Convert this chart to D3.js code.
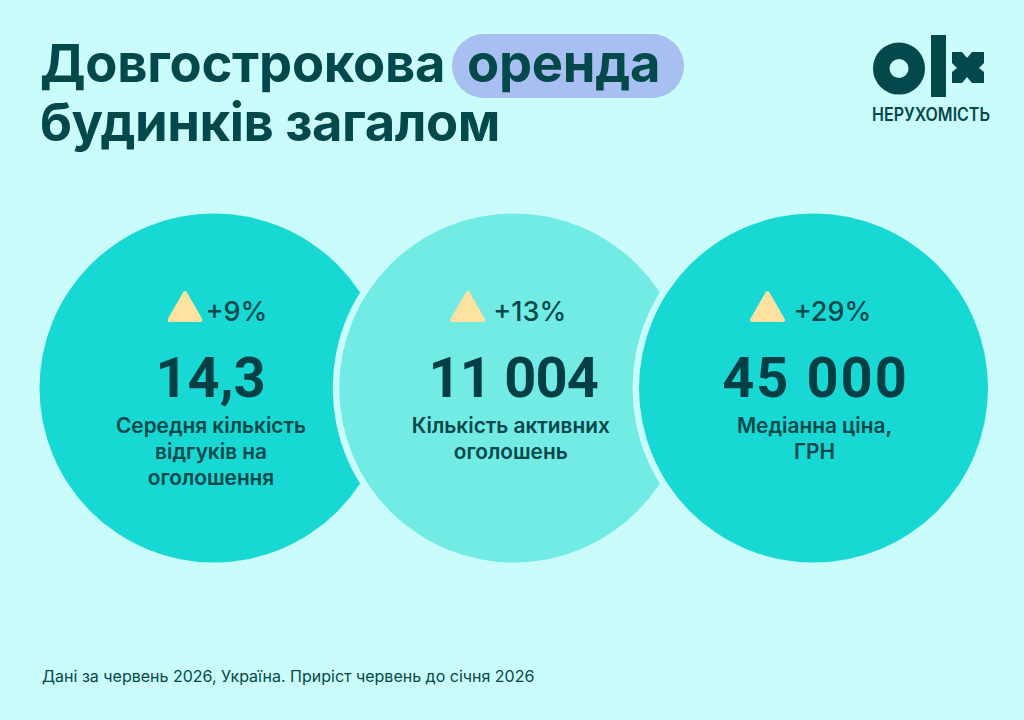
<!DOCTYPE html>
<html>
<head>
<meta charset="UTF-8"/>
<title>Довгострокова оренда будинків загалом</title>
<script src="https://d3js.org/d3.v7.min.js"></script>
<style>
html, body { margin: 0; padding: 0; background: #c9fcfa; }
svg { display: block; }
text { font-family: Inter, "Noto Sans", sans-serif; fill: #03484b; }
text.value { font-family: Roboto, sans-serif; fill: #033f44; }
</style>
</head>
<body>
<div id="chart"></div>
<script>
// data
var changes = ["+9%", "+13%", "+29%"];
var values = ["14,3", "11 004", "45 000"];
var labels = [
	["Середня кількість", "відгуків на", "оголошення"],
	["Кількість активних", "оголошень"],
	["Медіанна ціна,", "ГРН"]
];
var fills = ["#18d8d3", "#72ebe5", "#18d8d3"];
var bg = "#c9fcfa";

var svg = d3.select("#chart").append("svg")
	.attr("width", 1024)
	.attr("height", 720);

svg.append("rect").attr("width", 1024).attr("height", 720).attr("fill", bg);

// title
svg.append("rect")
	.attr("x", 452).attr("y", 34)
	.attr("width", 232).attr("height", 64)
	.attr("rx", 32)
	.attr("fill", "#a8bff2");

var title = [
	{t: "Довгострокова", x: 40, y: 82, s: -0.25},
	{t: "оренда", x: 467, y: 82, s: -0.25},
	{t: "будинків загалом", x: 40, y: 141, s: -0.45}
];
svg.selectAll(".title").data(title).enter().append("text")
	.attr("class", "title")
	.attr("x", d => d.x)
	.attr("y", d => d.y)
	.attr("font-size", 52.5)
	.attr("font-weight", 650)
	.attr("letter-spacing", d => d.s)
	.text(d => d.t);

// logo
var logo = svg.append("g").attr("fill", "#03484b");
logo.append("circle").attr("cx", 899).attr("cy", 68.5).attr("r", 17.75)
	.attr("fill", "none").attr("stroke", "#03484b").attr("stroke-width", 16.5);
logo.append("rect").attr("x", 931).attr("y", 35).attr("width", 15).attr("height", 62);
logo.append("path")
	.attr("d", "M952 52h10l5 6 5-6h12v11l-5 5 5 4v11h-12l-5-6-5 6h-10v-11l5-4-5-5z");
svg.append("text")
	.attr("x", 872).attr("y", 121)
	.attr("textLength", 118)
	.attr("lengthAdjust", "spacingAndGlyphs")
	.attr("font-size", 18)
	.attr("font-weight", 600)
	.text("НЕРУХОМІСТЬ");

// circles
var x = d3.scalePoint().domain(d3.range(values.length)).range([214, 813.5]);

var circles = svg.selectAll(".stat").data(values).enter().append("g")
	.attr("class", "stat")
	.attr("transform", (d, i) => "translate(" + x(i) + ",388)");

circles.append("circle")
	.attr("r", (d, i) => i == 0 ? 174 : 181)
	.attr("fill", bg);
circles.append("circle")
	.attr("r", 174.5)
	.attr("fill", (d, i) => fills[i]);

// triangles, slightly rounded
circles.append("path")
	.attr("d", "M0 -14L15.5 13H-15.5Z")
	.attr("transform", (d, i) => "translate(" + [-29, -46, -46][i] + ",-81)")
	.attr("fill", "#ffe2a0")
	.attr("stroke", "#ffe2a0")
	.attr("stroke-width", 4)
	.attr("stroke-linejoin", "round");

circles.append("text")
	.attr("x", (d, i) => [22.5, 16, 19][i])
	.attr("y", -67)
	.attr("text-anchor", "middle")
	.attr("font-size", 27)
	.attr("font-weight", 500)
	.text((d, i) => changes[i]);

circles.append("text")
	.attr("class", "value")
	.attr("x", (d, i) => [-3.5, -0.5, 2][i])
	.attr("y", 9)
	.attr("text-anchor", "middle")
	.attr("font-size", 56)
	.attr("font-weight", 700)
	.attr("letter-spacing", (d, i) => [0, -0.8, 2][i])
	.text(d => d);

circles.each(function(d, i) {
	d3.select(this).selectAll(".label").data(labels[i]).enter().append("text")
		.attr("class", "label")
		.attr("x", (l, j) => i == 2 ? 1 : -3)
		.attr("y", (l, j) => 45 + j * 26)
		.attr("text-anchor", "middle")
		.attr("font-size", 20.8)
		.attr("font-weight", 600)
		.text(l => l);
});

// footnote
svg.append("text")
	.attr("x", 42).attr("y", 682)
	.attr("font-size", 16)
	.text("Дані за червень 2026, Україна. Приріст червень до січня 2026");
</script>
</body>
</html>
